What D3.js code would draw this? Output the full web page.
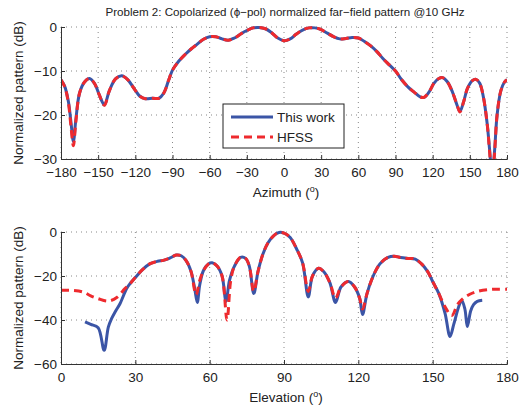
<!DOCTYPE html>
<html lang="en">
<head>
    <meta charset="UTF-8"/>
    <title>Copolarized far-field pattern</title>
    <script src="https://d3js.org/d3.v7.min.js"></script>
    <style>
        body { margin: 0; background: #fff; }
        svg text { font-family: "Liberation Sans", Arial, sans-serif; fill: #222; }
    </style>
</head>
<body>
<script>
    // ---- data ----
    // azimuth cut (top panel)
    var azAngles = [-180,-177,-174,-172,-170,-168,-165,-161,-157,-153,-149,-145,-141,-136,-131,-126,-121,-116,-112,-106,-101,-97,-93,-90,
        -85,-80,-75,-70,-65,-60,-55,-50,-45,-40,-35,-30,-25,-20,-15,-10,-5,0,5,10,15,20,25,30,35,40,45,50,55,60,65,70,75,80,85,90,
        95,100,105,110,113,117,121,125,128,132,136,140,142,145,148,152,155,158,161,164,166,168,170,172,175,178,180];
    var azThisWork = [-12,-13.5,-17,-21.5,-26,-21,-15,-12.5,-11.7,-12.8,-15.5,-17.7,-14.5,-11.8,-11.1,-12,-14,-15.8,-16.3,-16.2,-16.2,-15,-12,-9.8,
        -7.8,-6.3,-5,-3.9,-2.8,-2.2,-2.2,-2.7,-3.0,-2.5,-1.6,-0.8,-0.2,-0.1,-0.4,-1.3,-2.5,-3.1,-2.7,-1.6,-0.7,-0.2,-0.2,-0.6,-1.4,-2.2,-2.7,-2.6,-2.4,-2.5,-3.3,-4.3,-5.6,-7.2,-8.6,-10,
        -12,-13.6,-14.8,-15.9,-16,-14.8,-12.8,-11.7,-11.5,-12.5,-14.8,-18,-19.2,-17,-14,-12.2,-11.9,-12.8,-16,-22,-28,-34,-28,-20,-14.5,-12.5,-12];
    var azHFSS = [-12,-13.6,-17.3,-22.5,-27,-21.5,-15,-12.5,-11.7,-12.8,-15.5,-17.8,-14.5,-11.8,-11.1,-12,-14,-15.8,-16.3,-16.2,-16.2,-15,-12,-9.8,
        -7.8,-6.3,-5,-3.9,-2.8,-2.2,-2.2,-2.7,-3.0,-2.5,-1.6,-0.8,-0.2,-0.1,-0.4,-1.3,-2.5,-3.1,-2.7,-1.6,-0.7,-0.2,-0.2,-0.6,-1.4,-2.2,-2.7,-2.6,-2.4,-2.5,-3.3,-4.3,-5.6,-7.2,-8.6,-10,
        -12,-13.6,-14.8,-15.9,-16,-14.8,-12.8,-11.7,-11.5,-12.5,-14.8,-18,-19.3,-17,-14,-12.2,-11.9,-12.8,-16,-22,-28.5,-35,-28.5,-20,-14.5,-12.5,-12];

    // elevation cut (bottom panel)
    var elWorkAngles = [9.7,12,15,17.4,19.1,20.4,22,23.8,26.5,28,30,33,36,39,41.3,44,46.5,48.5,50.5,52.5,54,55,56,57.5,59.5,61,63,65,66.6,68,70,72.5,74.5,76,77.8,79.5,81.5,83.5,86,88,90,
        92.5,95,97.5,99.8,101.5,104,106,108.5,110.8,113,116,118.5,120.5,121.7,123.5,126,128.7,132,134.5,137,140,143,145.5,148,150,152.5,155,157,158.5,160.5,161.7,163,164,165.3,166.5,168,170];
    var elThisWork = [-40.9,-42,-43.5,-53.8,-43.2,-39.4,-36,-32.6,-25.7,-23.3,-20.7,-17,-14.4,-13.3,-12.9,-11.8,-10.5,-10.8,-13,-18,-26,-32,-24,-17.5,-14.5,-14,-15.5,-20,-31.5,-22,-15.5,-11.5,-12,-15.5,-28,-18,-10,-5,-1.5,-0.2,-0.5,
        -2.5,-7.5,-14,-29.5,-20,-16.5,-18,-23,-32,-25,-22.5,-25,-30,-37.5,-28,-20,-14.5,-11.5,-11,-11.6,-12,-12.3,-14.5,-18,-22.5,-28,-37,-47.5,-42,-34,-31,-35,-43,-36,-33,-31.5,-31];
    var elHFSSAngles = [0,5,9,12,15,19,22.5,25.8,28,30,33,36,39,41.3,44,46.5,48.5,50.5,52.5,54.5,56,57.5,59.5,61,63,65,67,68.5,70,72.5,74.5,76,77.8,79.5,81.5,83.5,86,88,90,
        92.5,95,97.5,99.8,101.5,104,106,108.5,110.8,113,116,118.5,120.5,121.7,123.5,126,128.7,132,134.5,137,140,143,145.5,148,150,152.5,155,157.7,160,162,165,168,172,176,180];
    var elHFSS = [-26.5,-26.6,-27.3,-29,-30.3,-31.4,-29.8,-25.7,-23.3,-20.7,-17,-14.4,-13.3,-12.9,-11.8,-10.5,-10.8,-13,-18,-28.5,-22,-17.5,-14.5,-14,-15.5,-20,-40,-22,-15.5,-11.5,-12,-15.5,-27,-18,-10,-5,-1.5,-0.2,-0.5,
        -2.5,-7.5,-14,-27,-20,-16.5,-18,-23,-30,-25,-22.5,-25,-30,-35,-28,-20,-14.5,-11.5,-11,-11.6,-12,-12.3,-14.5,-18,-22.5,-28,-34,-38,-33,-30.5,-28.3,-27,-26.2,-26,-26];

    var azTicks = [-180,-150,-120,-90,-60,-30,0,30,60,90,120,150,180];
    var elTicks = [0,30,60,90,120,150,180];
    var azYTicks = [0,-10,-20,-30];
    var elYTicks = [0,-20,-40,-60];

    var blue = "#3b55a6";
    var red = "#ee2a2e";
    var fs = "13.5px";

    var w = 530, h = 409;
    var svg = d3.select("body").append("svg")
        .attr("width", w)
        .attr("height", h);

    var fmt = function (d) { return String(d).replace("-", "\u2212"); };

    svg.append("text")
        .attr("x", 285).attr("y", 16)
        .attr("text-anchor", "middle")
        .attr("font-size", "11.6px")
        .text("Problem 2: Copolarized (\u03d5\u2212pol) normalized far\u2212field pattern @10 GHz");

    function drawPanel(p) {
        var x = d3.scaleLinear().domain(p.xDomain).range([p.left, p.right]);
        var y = d3.scaleLinear().domain(p.yDomain).range([p.bottom, p.top]);
        var g = svg.append("g");

        // dotted grid
        g.selectAll(".vgrid").data(p.xTicks).enter().append("line")
            .attr("x1", d => x(d)).attr("x2", d => x(d))
            .attr("y1", p.top).attr("y2", p.bottom)
            .attr("stroke", "#888").attr("stroke-width", 1)
            .attr("stroke-dasharray", "1,4");
        g.selectAll(".hgrid").data(p.yTicks).enter().append("line")
            .attr("x1", p.left).attr("x2", p.right)
            .attr("y1", d => y(d)).attr("y2", d => y(d))
            .attr("stroke", "#888").attr("stroke-width", 1)
            .attr("stroke-dasharray", "1,4");

        // clip so deep nulls stay inside
        var clipId = "clip" + p.id;
        svg.append("clipPath").attr("id", clipId)
            .append("rect")
            .attr("x", p.left).attr("y", p.top - 3)
            .attr("width", p.right - p.left)
            .attr("height", p.bottom - p.top + 3);

        var line = d3.line()
            .x(d => x(d[0]))
            .y(d => y(d[1]))
            .curve(d3.curveCatmullRom.alpha(0.5));

        var curves = g.append("g").attr("clip-path", "url(#" + clipId + ")");
        curves.append("path")
            .datum(d3.zip(p.blueX, p.blueY))
            .attr("d", line)
            .attr("fill", "none")
            .attr("stroke", blue)
            .attr("stroke-width", 3);
        curves.append("path")
            .datum(d3.zip(p.redX, p.redY))
            .attr("d", line)
            .attr("fill", "none")
            .attr("stroke", red)
            .attr("stroke-width", 3)
            .attr("stroke-dasharray", "8,5");

        // axes
        var xAxis = d3.axisBottom(x).tickValues(p.xTicks).tickSize(-4).tickPadding(8).tickFormat(fmt);
        var yAxis = d3.axisLeft(y).tickValues(p.yTicks).tickSize(-4).tickPadding(4).tickFormat(fmt);
        var gx = g.append("g").attr("transform", "translate(0," + p.bottom + ")").call(xAxis);
        var gy = g.append("g").attr("transform", "translate(" + p.left + ",0)").call(yAxis);
        [gx, gy].forEach(function (a) {
            a.select(".domain").attr("stroke", "#333").attr("stroke-width", 1);
            a.selectAll(".tick line").attr("stroke", "#333");
            a.selectAll("text").attr("font-size", fs).attr("fill", "#222")
                .attr("font-family", "'Liberation Sans', Arial, sans-serif");
        });

        // axis labels
        var xl = svg.append("text")
            .attr("x", (p.left + p.right) / 2 + 2)
            .attr("y", p.bottom + 38)
            .attr("text-anchor", "middle")
            .attr("font-size", fs);
        xl.append("tspan").text(p.xLabel + " (");
        xl.append("tspan").attr("font-size", "9px").attr("dy", -5).text("o");
        xl.append("tspan").attr("dy", 5).text(")");

        svg.append("text")
            .attr("transform", "translate(23," + ((p.top + p.bottom) / 2) + ") rotate(-90)")
            .attr("text-anchor", "middle")
            .attr("font-size", fs)
            .text("Normalized pattern (dB)");

        return { x: x, y: y };
    }

    drawPanel({
        id: "az", left: 61, right: 507, top: 27, bottom: 159,
        xDomain: [-180, 180], yDomain: [-30, 0],
        xTicks: azTicks, yTicks: azYTicks,
        blueX: azAngles, blueY: azThisWork,
        redX: azAngles, redY: azHFSS,
        xLabel: "Azimuth"
    });

    drawPanel({
        id: "el", left: 61, right: 507, top: 232, bottom: 364,
        xDomain: [0, 180], yDomain: [-60, 0],
        xTicks: elTicks, yTicks: elYTicks,
        blueX: elWorkAngles, blueY: elThisWork,
        redX: elHFSSAngles, redY: elHFSS,
        xLabel: "Elevation"
    });

    // legend
    var lg = svg.append("g");
    lg.append("rect")
        .attr("x", 223).attr("y", 104)
        .attr("width", 121).attr("height", 44)
        .attr("fill", "#fff").attr("stroke", "#222").attr("stroke-width", 1);
    var items = [["This work", blue, null], ["HFSS", red, "8,5"]];
    items.forEach(function (it, i) {
        var yy = 117 + i * 20;
        lg.append("line")
            .attr("x1", 231).attr("x2", 273)
            .attr("y1", yy).attr("y2", yy)
            .attr("stroke", it[1]).attr("stroke-width", 3)
            .attr("stroke-dasharray", it[2]);
        lg.append("text")
            .attr("x", 277).attr("y", yy + 5)
            .attr("font-size", fs)
            .text(it[0]);
    });
</script>
</body>
</html>
